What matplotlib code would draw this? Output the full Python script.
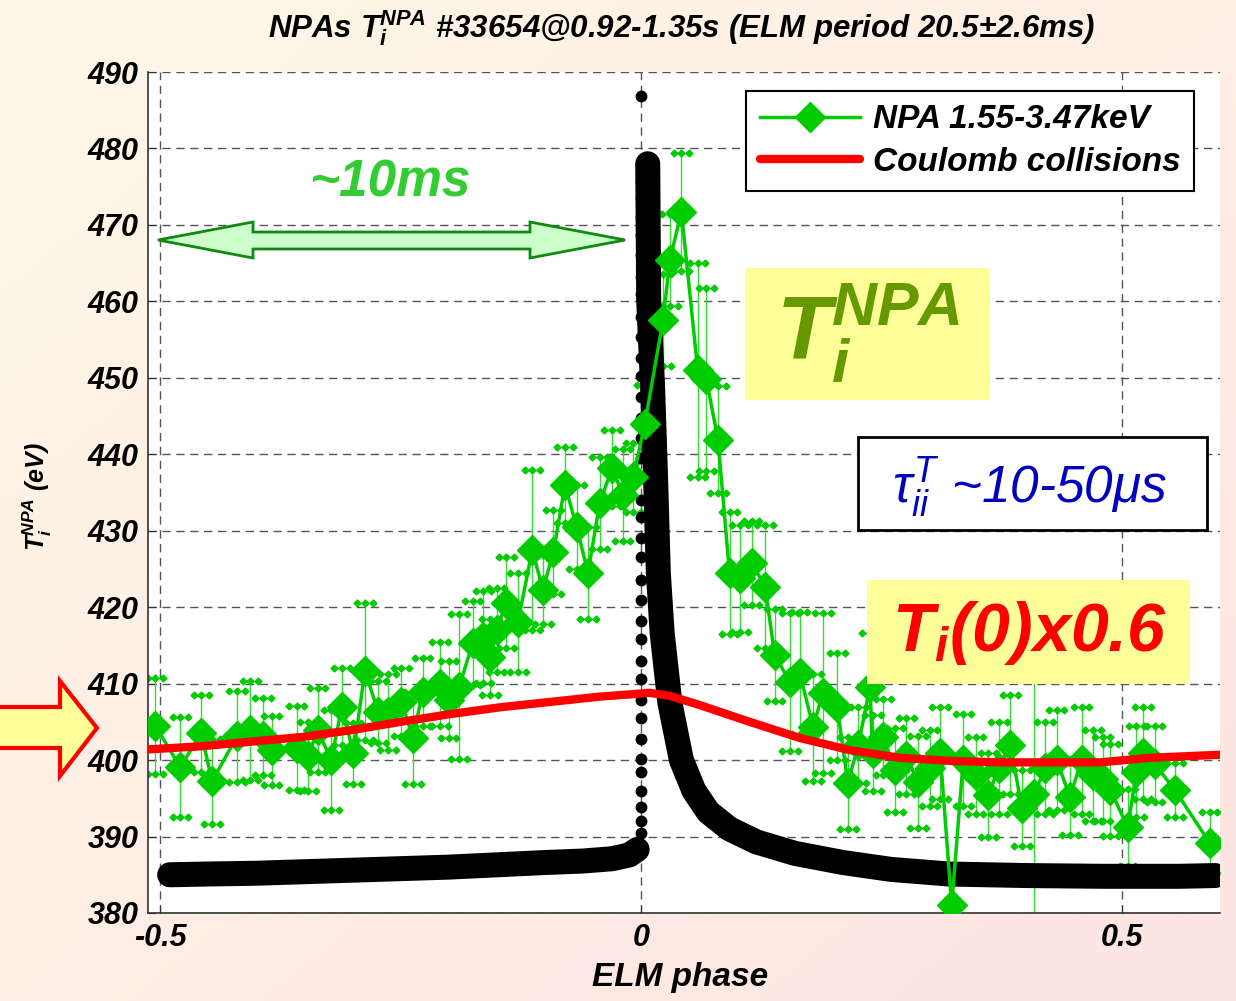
import numpy as np
import matplotlib
matplotlib.use("Agg")
from matplotlib import pyplot as plt
from matplotlib.patches import Polygon, Rectangle

plt.rcParams["font.family"] = ["Liberation Sans", "DejaVu Sans"]
plt.rcParams["font.style"] = "italic"
plt.rcParams["font.weight"] = "bold"
plt.rcParams["axes.labelweight"] = "bold"
plt.rcParams["mathtext.fontset"] = "custom"
plt.rcParams["mathtext.it"] = "Liberation Sans:italic:regular"
plt.rcParams["mathtext.rm"] = "Liberation Sans:italic:bold"
plt.rcParams["mathtext.bf"] = "Liberation Sans:italic:bold"

# NPA ion temperature vs ELM phase (value, symmetric error)
npa_phase = [-0.505, -0.479, -0.457, -0.446, -0.420, -0.406, -0.393, -0.384, -0.358, -0.346,
             -0.336, -0.322, -0.311, -0.299, -0.287, -0.273, -0.263, -0.249, -0.237, -0.227,
             -0.209, -0.200, -0.189, -0.175, -0.164, -0.157, -0.150, -0.140, -0.128, -0.113,
             -0.102, -0.091, -0.079, -0.067, -0.055, -0.043, -0.030, -0.019, -0.008, 0.004,
             0.023, 0.030, 0.042, 0.059, 0.068, 0.080, 0.092, 0.103, 0.115, 0.129,
             0.139, 0.155, 0.165, 0.179, 0.189, 0.204, 0.215, 0.226, 0.238, 0.241,
             0.252, 0.264, 0.276, 0.288, 0.300, 0.311, 0.323, 0.335, 0.348, 0.361,
             0.372, 0.384, 0.396, 0.409, 0.420, 0.432, 0.446, 0.458, 0.470, 0.480,
             0.488, 0.506, 0.515, 0.522, 0.534, 0.555, 0.591]
npa_ti = [404.5, 399.1, 403.5, 397.2, 403.1, 403.9, 403.1, 401.3, 401.6, 400.5,
          403.9, 400.0, 407.0, 400.9, 411.6, 406.3, 406.3, 407.6, 402.9, 408.9,
          410.0, 407.9, 409.6, 415.3, 416.1, 413.5, 417.0, 420.6, 418.0, 427.5,
          422.3, 427.2, 436.0, 430.5, 424.5, 433.6, 438.2, 434.7, 437.0, 444.0,
          457.6, 465.4, 471.7, 451.0, 449.8, 441.9, 424.5, 423.8, 425.8, 422.7,
          413.7, 410.2, 411.4, 404.3, 408.8, 407.0, 397.0, 402.0, 409.6, 400.9,
          403.0, 398.7, 400.5, 397.1, 399.0, 400.9, 381.0, 400.0, 398.0, 395.4,
          399.0, 402.0, 393.7, 395.5, 399.0, 400.0, 395.2, 400.0, 398.0, 397.5,
          396.1, 391.2, 398.5, 400.9, 399.5, 396.1, 389.2]
npa_err = [6.3, 6.5, 5.0, 5.5, 6.0, 6.5, 5.0, 4.5, 5.5, 4.5,
           5.5, 6.5, 5.0, 4.0, 9.0, 4.0, 5.0, 4.5, 6.0, 4.5,
           5.5, 5.0, 9.5, 5.5, 6.0, 5.0, 5.5, 6.0, 6.5, 10.5,
           4.5, 5.5, 5.0, 5.5, 6.0, 6.0, 5.0, 6.0, 4.5, 5.0,
           6.0, 6.0, 7.7, 14.0, 12.0, 7.0, 8.0, 7.0, 5.5, 8.0,
           6.0, 9.0, 8.0, 7.0, 10.5, 7.0, 6.0, 5.0, 7.0, 5.0,
           5.0, 5.5, 5.0, 6.0, 5.0, 6.0, 3.0, 6.0, 5.0, 5.5,
           6.0, 6.5, 5.0, 16.5, 6.0, 6.5, 5.0, 7.0, 6.0, 5.5,
           6.0, 5.0, 6.0, 6.0, 5.0, 3.5, 4.0]

# Coulomb collision model
coul_phase = [-0.512, -0.458, -0.406, -0.354, -0.302, -0.250, -0.199, -0.147, -0.095, -0.043,
              -0.011, 0.009, 0.030, 0.061, 0.113, 0.165, 0.217, 0.269, 0.321, 0.373,
              0.425, 0.477, 0.529, 0.602]
coul_ti = [401.4, 401.8, 402.4, 403.0, 403.9, 405.0, 406.0, 406.9, 407.6, 408.3,
           408.6, 408.8, 408.4, 407.2, 405.0, 402.9, 401.3, 400.3, 399.9, 399.7,
           399.7, 399.7, 400.3, 400.7]

# high-rate Ti trace: pre-ELM band, crash column at phase 0, post-ELM recovery
pre_phase = [-0.490, -0.450, -0.400, -0.350, -0.300, -0.250, -0.200, -0.150, -0.100, -0.060,
             -0.030, -0.012, -0.004]
pre_ti = [385.0, 385.1, 385.2, 385.4, 385.6, 385.8, 386.0, 386.3, 386.6, 386.8,
          387.1, 387.6, 388.3]
crash_phase = [-0.0005, 0.0000, 0.0003, -0.0004, 0.0002, 0.0000, -0.0003, 0.0004, 0.0000, -0.0002,
               0.0003, 0.0000, -0.0004, 0.0002, 0.0000, 0.0004, -0.0002, 0.0000, 0.0003, -0.0003,
               0.0000, 0.0002, -0.0004, 0.0000, 0.0003, 0.0000, -0.0002, 0.0004, 0.0000, -0.0003,
               0.0002, 0.0000, 0.0003, -0.0002, 0.0000, 0.0002, 0.0000, 0.0000]
crash_ti = [388.8, 390.5, 392.0, 393.8, 396.0, 398.5, 400.2, 402.8, 405.5, 407.9,
            410.6, 413.0, 415.8, 418.2, 421.0, 423.6, 426.5, 429.0, 431.8, 434.0,
            436.9, 439.5, 442.1, 444.8, 447.5, 450.2, 452.6, 455.4, 458.0, 460.9,
            463.2, 466.0, 468.7, 471.0, 473.5, 475.8, 477.9, 486.9]
post_phase = [0.007, 0.008, 0.012, 0.015, 0.018, 0.022, 0.030, 0.042, 0.055, 0.070,
              0.092, 0.120, 0.160, 0.210, 0.260, 0.320, 0.400, 0.480, 0.560, 0.597]
post_ti = [478.0, 460.0, 449.0, 437.5, 424.5, 416.6, 407.5, 400.0, 396.0, 393.2,
           391.0, 389.3, 387.8, 386.6, 385.7, 385.1, 384.9, 384.8, 384.8, 384.9]

W, H = 1236, 1001
fig = plt.figure(figsize=(W / 100, H / 100), dpi=100)


def fxy(px, py):
    return (px / W, 1 - py / H)


# warm gradient background
bg = fig.add_axes([0, 0, 1, 1], zorder=-10)
gx, gy = np.meshgrid(np.linspace(0, 1, 256), np.linspace(0, 1, 256))
t = ((gx + gy) / 2)[..., None]
c0 = np.array([1.0, 0.972, 0.905])
c1 = np.array([0.992, 0.895, 0.885])
bg.imshow(c0 * (1 - t) + c1 * t, aspect="auto", extent=[0, 1, 0, 1], origin="upper")
bg.axis("off")

ax = fig.add_axes([148 / W, 1 - 913 / H, (1220 - 148) / W, (913 - 72) / H])
ax.set_facecolor("white")

green = "#00cc00"
x = np.array(npa_phase)
y = np.array(npa_ti)
e = np.array(npa_err)
cw = 0.008
ax.vlines(x, y - e, y + e, colors="#33dd33", lw=1, zorder=2)
for lvl in (y - e, y + e):
    ax.hlines(lvl, x - cw, x + cw, colors=green, lw=1, zorder=2)
    cx = np.concatenate([x - cw, x, x + cw])
    cy = np.concatenate([lvl, lvl, lvl])
    ax.plot(cx, cy, "D", ms=3.5, color=green, zorder=2)

ax.plot(pre_phase, pre_ti, "-", color="black", lw=18, solid_capstyle="round",
        solid_joinstyle="round", zorder=3)
ax.plot(post_phase, post_ti, "-", color="black", lw=18, solid_capstyle="round",
        solid_joinstyle="round", zorder=3)
ax.plot(crash_phase, crash_ti, "o", color="black", ms=7.5, zorder=3)

ax.plot(npa_phase, npa_ti, "-D", color=green, lw=2.5, ms=15, mec=green,
        zorder=4, label="NPA 1.55-3.47keV")
ax.plot(coul_phase, coul_ti, "-", color="red", lw=6, zorder=5,
        solid_capstyle="round", label="Coulomb collisions")

ax.set_xlim(-0.5125, 0.6019)
ax.set_ylim(380, 490)
ax.set_xticks([-0.5, 0, 0.5])
ax.set_xticklabels(["-0.5", "0", "0.5"])
ax.set_yticks(range(380, 491, 10))
ax.tick_params(direction="in", length=6, labelsize=22, pad=7, color="#333333")
ax.grid(True, linestyle=(0, (6, 4)), color="#555555", lw=1)
ax.set_axisbelow(True)
for s in ("top", "right"):
    ax.spines[s].set_visible(False)
for s in ("left", "bottom"):
    ax.spines[s].set_color("#333333")
    ax.spines[s].set_linewidth(1.2)

ax.set_xlabel("ELM phase", fontsize=24)
ax.xaxis.set_label_coords(0.496, -0.058)
ax.set_ylabel(r"$\mathbf{T_i^{NPA}}$ (eV)", fontsize=18)
ax.yaxis.set_label_coords(-0.088, 0.495)

fig.text(682 / W, 1 - 28 / H,
         r"NPAs $\mathbf{T_i^{NPA}}$ #33654@0.92-1.35s (ELM period 20.5$\pm$2.6ms)",
         ha="center", va="center", fontsize=22.5)

leg = ax.legend(loc="upper right", bbox_to_anchor=((1194 - 148) / 1072, (913 - 91) / 841),
                borderaxespad=0, fancybox=False, edgecolor="black", framealpha=1,
                fontsize=24, handlelength=3.0, labelspacing=0.35, borderpad=0.4,
                handletextpad=0.4)
leg.get_frame().set_linewidth(1.5)
leg.set_zorder(10)

# annotations
ax.text(0.2257, 0.868, "~10ms", color="#33cc33", fontsize=37, ha="center", va="center",
        transform=ax.transAxes, zorder=8)

arrow_px = [(158, 240), (253, 222), (253, 232), (530, 232), (530, 222), (625, 240),
            (530, 258), (530, 249), (253, 249), (253, 258)]
ax.add_patch(Polygon([fxy(*p) for p in arrow_px], closed=True, transform=fig.transFigure,
                     facecolor="#ccffcc", edgecolor="#118811", lw=2, zorder=8))


def box(x0, y0, x1, y1, face, edge=None, lw=0):
    ax.add_patch(Rectangle(fxy(x0, y1), (x1 - x0) / W, (y1 - y0) / H,
                           transform=fig.transFigure, facecolor=face,
                           edgecolor=edge if edge else face, lw=lw, zorder=8))


box(745, 268, 990, 400, "#ffff99")
ax.text(*fxy(868, 333), r"$\mathbf{T_i^{NPA}}$", transform=fig.transFigure, color="#669900",
        fontsize=64, ha="center", va="center", zorder=9)

box(858, 437, 1207, 530, "white", "black", 2)
ax.text(*fxy(1030, 488), r"$\tau_{ii}^{T}$ ~10-50μs", transform=fig.transFigure,
        color="#0000c0", fontsize=37, fontweight="normal", ha="center", va="center", zorder=9)

box(867, 580, 1190, 684, "#ffff99")
ax.text(*fxy(1030, 633), r"$\mathbf{T_i}$(0)x0.6", transform=fig.transFigure, color="red",
        fontsize=49, ha="center", va="center", zorder=9)

left_px = [(-5, 707), (60, 707), (60, 681), (97, 728), (60, 776), (60, 748), (-5, 748)]
fig.add_artist(Polygon([fxy(*p) for p in left_px], closed=True, transform=fig.transFigure,
                       facecolor="#ffff99", edgecolor="red", lw=3, zorder=-1))

fig.savefig("out.png", dpi=100)
